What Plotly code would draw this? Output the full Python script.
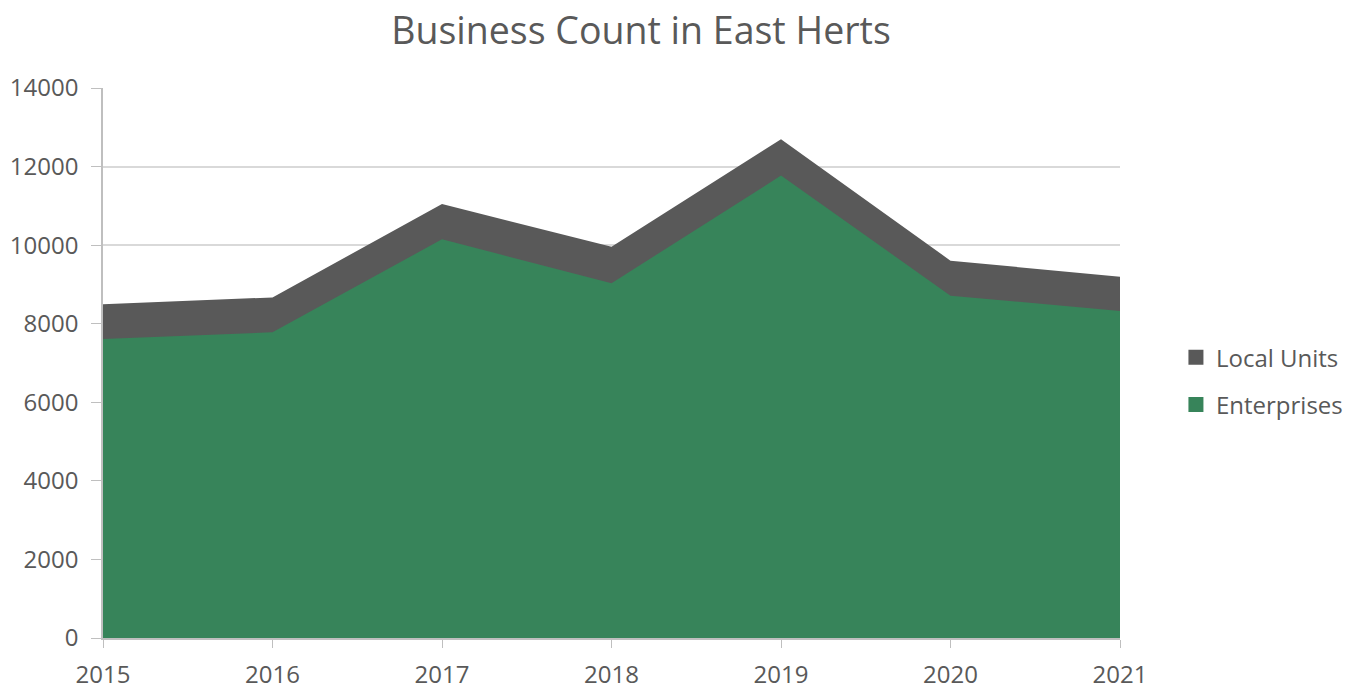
import plotly.graph_objects as go

years = [2015, 2016, 2017, 2018, 2019, 2020, 2021]
local_units = [8495, 8670, 11045, 9960, 12695, 9605, 9195]
enterprises = [7610, 7780, 10150, 9030, 11770, 8715, 8325]

GREEN = "#37845A"
GREY = "#595959"
TEXT = "#595959"

fig = go.Figure()
# legend entries (square swatches)
fig.add_trace(go.Scatter(x=[None], y=[None], name="Local Units", mode="markers",
                         marker=dict(color=GREY, symbol="square", size=15),
                         legendgroup="lu", showlegend=True))
fig.add_trace(go.Scatter(x=[None], y=[None], name="Enterprises", mode="markers",
                         marker=dict(color=GREEN, symbol="square", size=15),
                         legendgroup="en", showlegend=True))
# area marks
fig.add_trace(go.Scatter(
    x=years, y=local_units, name="Local Units", mode="lines",
    fill="tozeroy", fillcolor=GREY, line=dict(color=GREY, width=0),
    legendgroup="lu", showlegend=False))
fig.add_trace(go.Scatter(
    x=years, y=enterprises, name="Enterprises", mode="lines",
    fill="tozeroy", fillcolor=GREEN, line=dict(color=GREEN, width=0),
    legendgroup="en", showlegend=False))

fig.update_layout(
    width=1355, height=688,
    margin=dict(l=95, r=243, t=80, b=58, autoexpand=False),
    paper_bgcolor="white", plot_bgcolor="white",
    font=dict(family="Open Sans", color=TEXT, size=24),
    title=dict(text="Business Count in East Herts", x=0.529, xref="paper",
               xanchor="center", y=0.9666, yanchor="middle",
               font=dict(size=37.5, color=TEXT, family="Open Sans")),
    showlegend=True,
    legend=dict(x=1.055, y=0.467, xanchor="left", yanchor="middle",
                font=dict(size=24, color=TEXT), tracegroupgap=13,
                itemwidth=30, traceorder="grouped"),
    xaxis=dict(range=[2015, 2021], tickvals=years, ticktext=[str(y) for y in years],
               showgrid=False, showline=True, linecolor="#BFBFBF", linewidth=1.5,
               ticks="outside", ticklen=8, tickcolor="#BFBFBF", zeroline=False,
               automargin=False, ticklabelstandoff=6,
               tickfont=dict(size=24, color=TEXT)),
    yaxis=dict(range=[0, 14000], dtick=2000, tickformat="d", showgrid=True,
               gridcolor="#D9D9D9", gridwidth=1.5, showline=True,
               linecolor="#BFBFBF", linewidth=1.5, automargin=False,
               ticks="outside", ticklen=10, tickcolor="#BFBFBF", zeroline=False,
               tickfont=dict(size=24, color=TEXT), ticklabelstandoff=8),
)

fig.write_html("out.html")
